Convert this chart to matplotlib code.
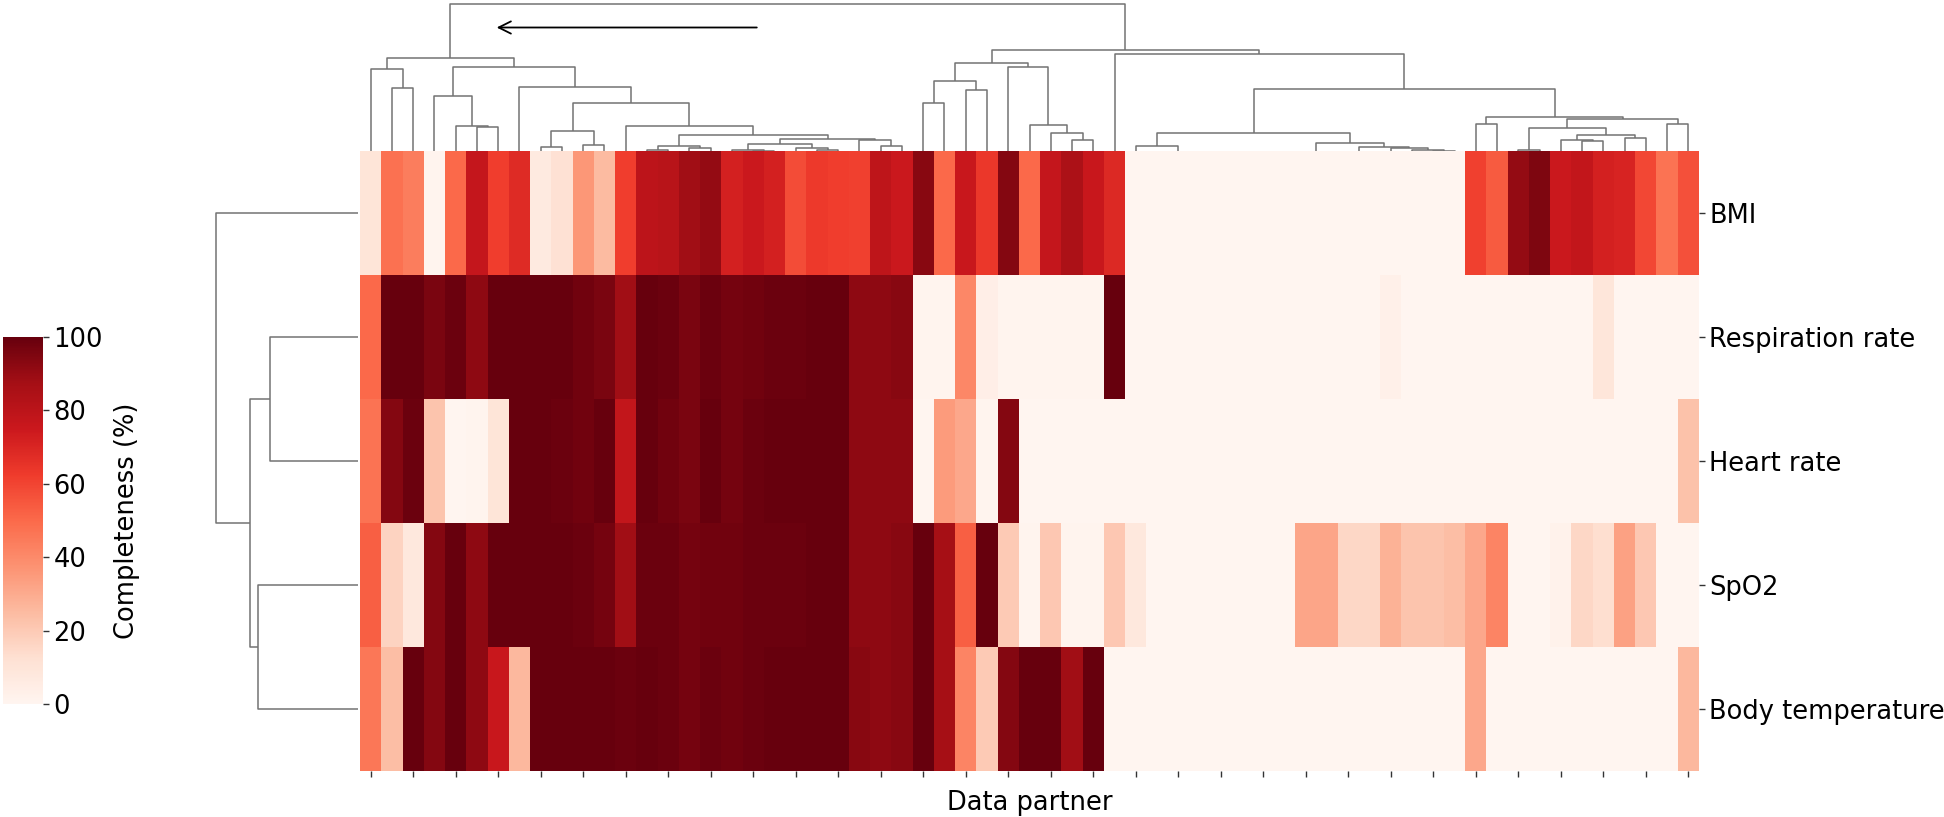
import numpy as np
import matplotlib
matplotlib.use("Agg")
import matplotlib.pyplot as plt
from matplotlib.collections import LineCollection

W, H = 1944, 817

# ── Data (completeness %, one list per feature, columns in clustered order) ──
features = ["BMI", "Respiration rate", "Heart rate", "SpO2", "Body temperature"]

bmi = [10, 48, 44, 1, 50, 77, 62, 68, 7, 12, 36, 25, 62, 80, 81, 88, 91, 72, 75, 72,
       58, 63, 62, 61, 79, 75, 93, 50, 76, 64, 94, 50, 77, 85, 76, 69, 0, 0, 0, 0,
       0, 0, 0, 0, 0, 0, 0, 0, 0, 0, 0, 0, 61, 54, 91, 95, 75, 78, 72, 71,
       59, 47, 57]
resp = [50, 100, 100, 96, 99, 92, 100, 100, 100, 100, 98, 96, 88, 100, 99, 96, 99, 97, 98, 99,
        99, 100, 100, 92, 92, 93, 1, 1, 41, 4, 1, 1, 1, 1, 1, 100, 0, 0, 0, 0,
        0, 0, 0, 0, 0, 0, 0, 0, 3, 0, 0, 0, 0, 0, 0, 0, 0, 0, 9, 0,
        0, 0, 0]
heart = [47, 94, 99, 22, 0, 1, 10, 100, 100, 99, 98, 100, 78, 100, 98, 96, 100, 97, 99, 100,
         100, 100, 100, 92, 92, 92, 0, 35, 31, 1, 94, 0, 0, 0, 0, 0, 0, 0, 0, 0,
         0, 0, 0, 0, 0, 0, 0, 0, 0, 0, 0, 0, 0, 0, 0, 0, 0, 0, 0, 0,
         0, 0, 23]
spo2 = [53, 17, 8, 94, 100, 92, 100, 100, 100, 100, 99, 97, 88, 99, 99, 97, 98, 98, 99, 99,
        99, 100, 100, 92, 92, 93, 100, 87, 53, 100, 20, 1, 21, 1, 1, 21, 8, 0, 0, 0,
        0, 0, 0, 0, 32, 32, 16, 16, 28, 22, 22, 24, 31, 42, 0, 0, 2, 16, 13, 33,
        21, 0, 0]
temp = [46, 24, 100, 94, 100, 92, 76, 26, 100, 100, 100, 100, 99, 100, 99, 97, 99, 98, 99, 100,
        100, 100, 100, 93, 92, 93, 100, 87, 42, 20, 94, 100, 100, 88, 100, 0, 0, 0, 0, 0,
        0, 0, 0, 0, 0, 0, 0, 0, 0, 0, 0, 0, 31, 0, 0, 0, 0, 0, 0, 0,
        0, 0, 26]

# column linkage (left, right, height); ids >= 63 are earlier merges
col_links = [
    (1, 2, 64.0), (0, 63, 82.3), (5, 6, 24.3), (4, 65, 25.3), (3, 66, 56.0),
    (8, 9, 4.7), (10, 11, 6.7), (68, 69, 20.7), (13, 14, 1.7), (15, 16, 3.3),
    (71, 72, 5.7), (18, 19, 0.7), (17, 74, 2.0), (21, 22, 1.5), (20, 76, 3.3),
    (75, 77, 8.0), (24, 25, 5.7), (23, 79, 11.3), (78, 80, 13.0), (73, 81, 16.3),
    (12, 82, 25.3), (70, 83, 48.7), (7, 84, 64.7), (67, 85, 84.7), (64, 86, 93.3),
    (26, 27, 48.3), (28, 29, 61.3), (88, 89, 70.7), (33, 34, 11.7), (32, 91, 18.3),
    (31, 92, 26.3), (30, 93, 85.0), (90, 94, 88.7), (42, 43, 0.0), (41, 96, 0.0),
    (40, 97, 0.0), (39, 98, 0.0), (38, 99, 0.0), (37, 100, 0.0), (36, 101, 5.7),
    (44, 45, 0.0), (46, 47, 0.0), (50, 51, 0.7), (49, 105, 1.7), (48, 106, 3.7),
    (104, 107, 4.7), (103, 108, 9.0), (102, 109, 18.3), (52, 53, 27.3), (54, 55, 2.0),
    (57, 58, 10.7), (56, 113, 11.7), (59, 60, 14.0), (114, 115, 16.7), (112, 116, 24.0),
    (61, 62, 27.3), (117, 118, 33.0), (111, 119, 34.7), (110, 120, 62.3), (35, 121, 97.3),
    (95, 122, 101.3), (87, 123, 147.3),
]
row_links = [(1, 2, 88.3), (3, 4, 100.0), (5, 6, 108.3), (0, 7, 141.6)]


def dendro_segments(links, n_leaves):
    pos = {i: i + 0.5 for i in range(n_leaves)}
    hgt = {i: 0.0 for i in range(n_leaves)}
    segs = []
    for k, (a, b, h) in enumerate(links):
        xa, xb = pos[a], pos[b]
        segs.append([(xa, hgt[a]), (xa, h), (xb, h), (xb, hgt[b])])
        pos[n_leaves + k] = (xa + xb) / 2
        hgt[n_leaves + k] = h
    return segs


def px_axes(fig, x0, y0, x1, y1):
    return fig.add_axes([x0 / W, 1 - y1 / H, (x1 - x0) / W, (y1 - y0) / H])


data = np.array([bmi, resp, heart, spo2, temp], dtype=float)
n_rows, n_cols = data.shape
FS = 18.5

fig = plt.figure(figsize=(W / 100, H / 100), dpi=100)

# ── Column dendrogram (zero height sits just under the heatmap edge) ──
axc = px_axes(fig, 360, 0, 1699, 153)
lc = LineCollection(dendro_segments(col_links, n_cols), colors="0.45", linewidths=1.1)
axc.add_collection(lc)
axc.set_xlim(0, n_cols)
axc.set_ylim(-1.5, 151.5)
axc.axis("off")
axc.annotate("", xy=(6.3, 124.0), xytext=(18.8, 124.0),
             arrowprops=dict(arrowstyle="->", lw=1.3, color="black", mutation_scale=22))

# ── Heatmap ──
ax = px_axes(fig, 360, 151, 1699, 771)
ax.set_zorder(3)
mesh = ax.pcolormesh(np.arange(n_cols + 1), np.arange(n_rows + 1), data,
                     cmap="Reds", vmin=0, vmax=100)
ax.set_xlim(0, n_cols)
ax.set_ylim(n_rows, 0)
for s in ax.spines.values():
    s.set_visible(False)
ax.set_xticks(np.arange(0, n_cols, 2) + 0.5)
ax.set_xticklabels([])
ax.set_yticks(np.arange(n_rows) + 0.5)
ax.set_yticklabels(features, fontsize=FS)
ax.yaxis.tick_right()
ax.tick_params(length=4, width=1.0, color="#333333")
ax.set_xlabel("Data partner", fontsize=FS, labelpad=6)

# ── Row dendrogram ──
axr = px_axes(fig, 200, 151, 358, 771)
rsegs = [[(h, x) for x, h in seg] for seg in dendro_segments(row_links, n_rows)]
axr.add_collection(LineCollection(rsegs, colors="0.45", linewidths=1.1))
axr.set_xlim(158, 0)
axr.set_ylim(n_rows, 0)
axr.axis("off")

# ── Colorbar ──
cax = px_axes(fig, 3, 337, 43, 704)
cb = fig.colorbar(mesh, cax=cax, ticks=np.arange(0, 101, 20))
cb.outline.set_visible(False)
cb.ax.tick_params(labelsize=FS, length=4, width=1.0, color="#333333")
cb.set_label("Completeness (%)", fontsize=FS, labelpad=8)

fig.savefig("out.png", dpi=100, facecolor="white")
